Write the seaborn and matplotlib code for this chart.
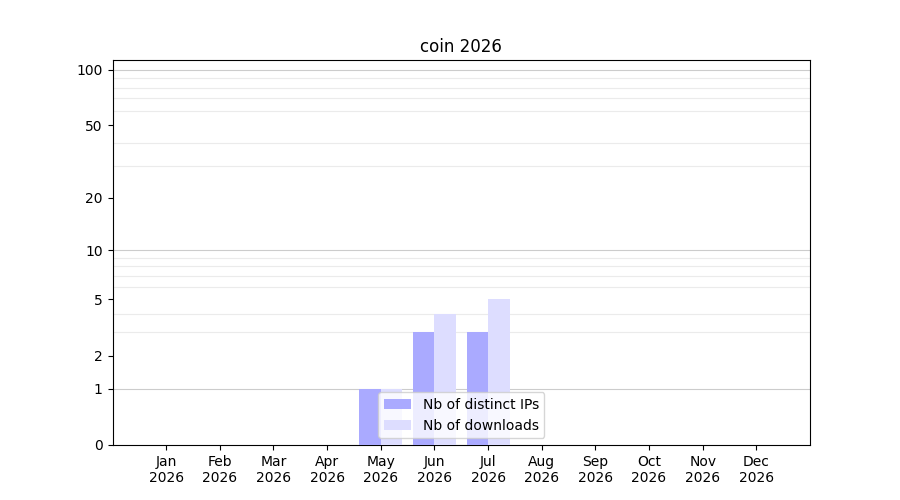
import numpy as np
import pandas as pd
import matplotlib
matplotlib.use("Agg")
import matplotlib.pyplot as plt
import seaborn as sns

# donnees
mois = ['Jan', 'Feb', 'Mar', 'Apr', 'May', 'Jun', 'Jul', 'Aug', 'Sep', 'Oct', 'Nov', 'Dec']
annee = '2026'
ips_distincts = [0, 0, 0, 0, 1, 3, 3, 0, 0, 0, 0, 0]
telechargements = [0, 0, 0, 0, 1, 4, 5, 0, 0, 0, 0, 0]
y_ticks = [0, 1, 2, 5, 10, 20, 50, 100]

labels = [m + '\n' + annee for m in mois]

df = pd.DataFrame({
    'mois': labels * 2,
    'valeur': ips_distincts + telechargements,
    'serie': ['Nb of distinct IPs'] * len(mois) + ['Nb of downloads'] * len(mois),
})

fig, ax = plt.subplots(figsize=(9, 5), dpi=100)

sns.barplot(data=df, x='mois', y='valeur', hue='serie', order=labels,
            palette=['#aaaaff', '#ddddff'], saturation=1, width=0.8, ax=ax, zorder=3)

# echelle log(1+x)
ax.set_yscale('function', functions=(lambda v: np.log10(1 + np.clip(v, 0, None)),
                                     lambda v: 10 ** v - 1))
ax.set_ylim(0, 113)
ax.set_xlim(-1, 12)

ax.set_yticks(y_ticks)
ax.set_yticklabels([str(t) for t in y_ticks])
mineurs = [2, 3, 4, 5, 6, 7, 8, 9, 20, 30, 40, 50, 60, 70, 80, 90]
ax.set_yticks(mineurs, minor=True)
ax.tick_params(axis='y', which='minor', length=0)
ax.grid(axis='y', which='minor', color='#ebebeb', linewidth=0.8, zorder=0)
for v in [1, 10, 100]:
    ax.axhline(v, color='#cccccc', linewidth=0.8, zorder=0)

ax.set_xlabel('')
ax.set_ylabel('')
ax.set_title('coin 2026')
ax.legend(loc='lower center')

fig.savefig('out.png', dpi=100)
